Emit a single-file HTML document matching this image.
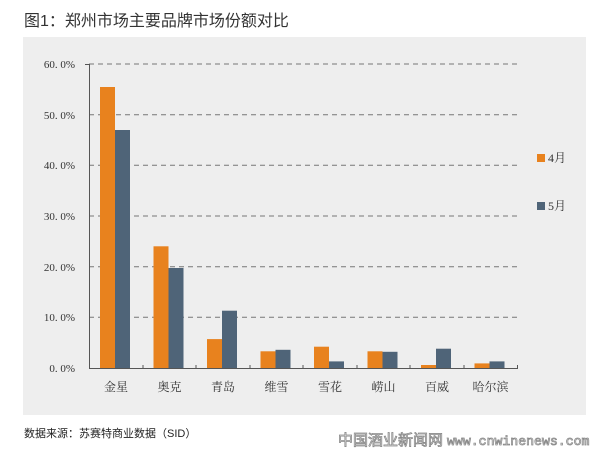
<!DOCTYPE html>
<html><head><meta charset="utf-8"><style>
body{margin:0;background:#fff;}
</style></head><body>
<svg width="600" height="457" xmlns="http://www.w3.org/2000/svg" style="display:block">
<rect width="600" height="457" fill="#fff"/>
<text x="24" y="26" font-family="'Liberation Sans','Noto Sans CJK SC',sans-serif" font-size="16" fill="#333">图1：郑州市场主要品牌市场份额对比</text>
<rect x="23" y="37" width="563" height="378" fill="#eeeeee"/>
<g stroke="#777" stroke-dasharray="5,4" stroke-width="1">
<line x1="89" y1="64" x2="517" y2="64"/>
<line x1="89" y1="114.7" x2="517" y2="114.7"/>
<line x1="89" y1="165.3" x2="517" y2="165.3"/>
<line x1="89" y1="216" x2="517" y2="216"/>
<line x1="89" y1="266.7" x2="517" y2="266.7"/>
<line x1="89" y1="317.3" x2="517" y2="317.3"/>
</g>
<g font-family="'Liberation Serif','Noto Serif CJK SC',serif" font-size="11" fill="#333" text-anchor="end">
<text x="75" y="68">60. 0%</text>
<text x="75" y="119">50. 0%</text>
<text x="75" y="169">40. 0%</text>
<text x="75" y="220">30. 0%</text>
<text x="75" y="271">20. 0%</text>
<text x="75" y="321">10. 0%</text>
<text x="75" y="372">0. 0%</text>
</g>
<g fill="#e8821e">
<rect x="100" y="87" width="15" height="281"/>
<rect x="153.5" y="246.3" width="15" height="121.7"/>
<rect x="207" y="339.1" width="15" height="28.9"/>
<rect x="260.5" y="351.3" width="15" height="16.7"/>
<rect x="314" y="346.7" width="15" height="21.3"/>
<rect x="367.5" y="351.3" width="15" height="16.7"/>
<rect x="421" y="365" width="15" height="3"/>
<rect x="474.5" y="363.4" width="15" height="4.6"/>
</g>
<g fill="#4f6478">
<rect x="115" y="130" width="15" height="238"/>
<rect x="168.5" y="268" width="15" height="100"/>
<rect x="222" y="310.7" width="15" height="57.3"/>
<rect x="275.5" y="349.8" width="15" height="18.2"/>
<rect x="329" y="361.4" width="15" height="6.6"/>
<rect x="382.5" y="351.8" width="15" height="16.2"/>
<rect x="436" y="348.7" width="15" height="19.3"/>
<rect x="489.5" y="361.4" width="15" height="6.6"/>
</g>
<g stroke="#555" stroke-width="1">
<line x1="89.5" y1="64" x2="89.5" y2="368"/>
<line x1="89" y1="368.5" x2="518" y2="368.5"/>
<line x1="85" y1="64.5" x2="89" y2="64.5"/>
<line x1="143" y1="365" x2="143" y2="368"/>
<line x1="196" y1="365" x2="196" y2="368"/>
<line x1="250" y1="365" x2="250" y2="368"/>
<line x1="303" y1="365" x2="303" y2="368"/>
<line x1="357" y1="365" x2="357" y2="368"/>
<line x1="410" y1="365" x2="410" y2="368"/>
<line x1="464" y1="365" x2="464" y2="368"/>
<line x1="517.5" y1="365" x2="517.5" y2="368"/>
</g>
<g font-family="'Liberation Serif','Noto Serif CJK SC',serif" font-size="12" fill="#333" text-anchor="middle">
<text x="116" y="391">金星</text>
<text x="169.5" y="391">奥克</text>
<text x="223" y="391">青岛</text>
<text x="276.5" y="391">维雪</text>
<text x="330" y="391">雪花</text>
<text x="383.5" y="391">崂山</text>
<text x="437" y="391">百威</text>
<text x="490.5" y="391">哈尔滨</text>
</g>
<rect x="537" y="154" width="8" height="8" fill="#e8821e"/>
<rect x="537" y="202" width="8" height="8" fill="#4f6478"/>
<g font-family="'Liberation Serif','Noto Serif CJK SC',serif" font-size="12" fill="#333">
<text x="548" y="162">4月</text>
<text x="548" y="210">5月</text>
</g>
<text x="24" y="437" font-family="'Liberation Sans','Noto Sans CJK SC',sans-serif" font-size="11" fill="#222">数据来源：苏赛特商业数据（SID）</text>
<text x="338" y="445" font-family="'Liberation Sans','Noto Sans CJK SC',sans-serif" font-size="15" fill="#fff" stroke="#888" stroke-width="0.8">中国酒业新闻网</text>
<text x="447" y="445" font-family="'Liberation Mono',monospace" font-size="13.2" fill="#fff" stroke="#888" stroke-width="0.8">www.cnwinenews.com</text>
</svg>
</body></html>
